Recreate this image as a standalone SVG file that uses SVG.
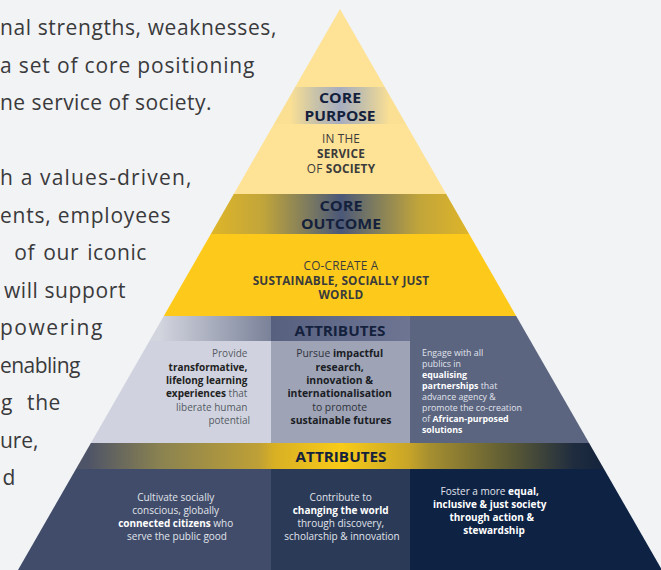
<svg xmlns="http://www.w3.org/2000/svg" width="661" height="570" viewBox="0 0 661 570">
<defs>
<style>
.para{font-family:"Open Sans","Liberation Sans",sans-serif;font-size:21px;letter-spacing:0.6px;fill:#3a3a3c;text-anchor:end}
.ps{text-anchor:start}
.t{font-family:"Open Sans","Liberation Sans",sans-serif}
.hd{font-weight:700;fill:#14213d;text-anchor:middle;font-size:14.5px}
.dk{fill:#3b3b3b;font-size:11.8px;letter-spacing:0.2px;text-anchor:middle}
.b{font-weight:700}
.lt{fill:#e1e4ec}
.wh{fill:#ffffff;font-weight:700}
</style>
<clipPath id="tri"><polygon points="340,9 18,570 662,570"/></clipPath>
<linearGradient id="gPurpose" gradientUnits="userSpaceOnUse" x1="290" y1="0" x2="390" y2="0">
<stop offset="0" stop-color="#fbe094"/><stop offset="0.25" stop-color="#c9c3a8"/><stop offset="0.5" stop-color="#a7adc0"/><stop offset="0.75" stop-color="#c9c3a8"/><stop offset="1" stop-color="#fbe094"/>
</linearGradient>
<linearGradient id="gOutcome" gradientUnits="userSpaceOnUse" x1="210" y1="0" x2="472" y2="0">
<stop offset="0" stop-color="#e0b628"/><stop offset="0.2" stop-color="#c2a53a"/><stop offset="0.38" stop-color="#7b7a60"/><stop offset="0.5" stop-color="#4b5878"/><stop offset="0.62" stop-color="#7b7a60"/><stop offset="0.8" stop-color="#c2a53a"/><stop offset="1" stop-color="#e0b628"/>
</linearGradient>
<linearGradient id="gHead1" gradientUnits="userSpaceOnUse" x1="160" y1="0" x2="271" y2="0">
<stop offset="0" stop-color="#d2d4de"/><stop offset="1" stop-color="#7a8299"/>
</linearGradient>
<linearGradient id="gHead1m" gradientUnits="userSpaceOnUse" x1="271" y1="0" x2="410" y2="0">
<stop offset="0" stop-color="#57617f"/><stop offset="1" stop-color="#6d7593"/>
</linearGradient>
<linearGradient id="gBand2" gradientUnits="userSpaceOnUse" x1="88" y1="0" x2="605" y2="0">
<stop offset="0" stop-color="#4e5467"/><stop offset="0.14" stop-color="#8a8250"/><stop offset="0.33" stop-color="#bea036"/><stop offset="0.36" stop-color="#d8b024"/><stop offset="0.49" stop-color="#f8cb18"/><stop offset="0.62" stop-color="#c8a528"/><stop offset="0.66" stop-color="#a68f30"/><stop offset="0.82" stop-color="#5a5935"/><stop offset="0.94" stop-color="#1f2c3f"/><stop offset="1" stop-color="#14233c"/>
</linearGradient>
</defs>
<rect width="661" height="570" fill="#f2f3f5"/>

<g id="left-text">
<text class="para ps" x="0" y="35" textLength="277" lengthAdjust="spacing">nal strengths, weaknesses,</text>
<text class="para ps" x="0" y="72.5" textLength="255" lengthAdjust="spacing">a set of core positioning</text>
<text class="para ps" x="0" y="110" textLength="212" lengthAdjust="spacing">ne service of society.</text>
<text class="para ps" x="0" y="185" textLength="192" lengthAdjust="spacing">h a values-driven,</text>
<text class="para ps" x="0" y="222.5" textLength="171" lengthAdjust="spacing">ents, employees</text>
<text class="para" x="147" y="260" word-spacing="2">of our iconic</text>
<text class="para" x="126" y="297.5">will support</text>
<text class="para ps" x="0" y="335" textLength="103" lengthAdjust="spacing">powering</text>
<text class="para ps" x="0" y="372.5" textLength="81" lengthAdjust="spacing">enabling</text>
<text class="para" x="61" y="410" word-spacing="8">g the</text>
<text class="para ps" x="0" y="447.5" textLength="39" lengthAdjust="spacing">ure,</text>
<text class="para" x="16" y="485">d</text>
</g>

<g id="pyramid" clip-path="url(#tri)">
<g id="apex"><rect x="0" y="0" width="661" height="87" fill="#fee295"/></g>
<g id="core-purpose">
<rect x="0" y="87" width="661" height="37" fill="url(#gPurpose)"/>
<text class="t hd" x="340" y="103" textLength="42" lengthAdjust="spacingAndGlyphs">CORE</text>
<text class="t hd" x="340" y="120.5" textLength="71" lengthAdjust="spacingAndGlyphs">PURPOSE</text>
</g>
<g id="service">
<rect x="0" y="124" width="661" height="70" fill="#fee295"/>
<text class="t dk" x="341" y="143">IN THE</text>
<text class="t dk b" x="341" y="158">SERVICE</text>
<text class="t dk" x="341" y="172.5">OF <tspan class="b">SOCIETY</tspan></text>
</g>
<g id="core-outcome">
<rect x="0" y="194" width="661" height="40" fill="url(#gOutcome)"/>
<text class="t hd" x="341" y="210.5" textLength="43" lengthAdjust="spacingAndGlyphs">CORE</text>
<text class="t hd" x="341" y="229" textLength="80" lengthAdjust="spacingAndGlyphs">OUTCOME</text>
</g>
<g id="outcome">
<rect x="0" y="234" width="661" height="82" fill="#fdca1c"/>
<text class="t dk" x="341" y="270">CO-CREATE A</text>
<text class="t dk b" x="341" y="284.5">SUSTAINABLE, SOCIALLY JUST</text>
<text class="t dk b" x="341" y="299">WORLD</text>
</g>
<g id="attributes-1">
<rect x="0" y="316" width="271" height="25" fill="url(#gHead1)"/>
<rect x="271" y="316" width="139" height="25" fill="url(#gHead1m)"/>
<rect x="410" y="316" width="251" height="25" fill="#5b6580"/>
<text class="t hd" x="340" y="336" textLength="91" lengthAdjust="spacingAndGlyphs">ATTRIBUTES</text>
</g>
<g id="attr-teaching">
<rect x="0" y="341" width="271" height="102" fill="#d0d3df"/>
<text class="t" font-size="10" text-anchor="end" fill="#555a63">
<tspan x="250" y="357">Provide</tspan>
<tspan x="250" y="370.5" class="b" fill="#222">transformative,</tspan>
<tspan x="250" y="384" class="b" fill="#222">lifelong learning</tspan>
<tspan x="250" y="397"><tspan class="b" fill="#222">experiences</tspan> that</tspan>
<tspan x="250" y="410.5">liberate human</tspan>
<tspan x="250" y="424">potential</tspan>
</text>
</g>
<g id="attr-research">
<rect x="271" y="341" width="139" height="102" fill="#9ea3b6"/>
<text class="t" font-size="10.4" text-anchor="middle" fill="#2e323b">
<tspan x="341" y="357">Pursue <tspan class="b" fill="#1a1d24">impactful</tspan></tspan>
<tspan x="341" y="370.5" class="b" fill="#1a1d24">research,</tspan>
<tspan x="341" y="384" class="b" fill="#1a1d24">innovation &amp;</tspan>
<tspan x="341" y="397" class="b" fill="#1a1d24">internationalisation</tspan>
<tspan x="341" y="410.5">to promote</tspan>
<tspan x="341" y="424" class="b" fill="#1a1d24">sustainable futures</tspan>
</text>
</g>
<g id="attr-engagement">
<rect x="410" y="341" width="251" height="102" fill="#5b6580"/>
<text class="t lt" font-size="8.8">
<tspan x="422" y="355.7">Engage with all</tspan>
<tspan x="422" y="366.7">publics in</tspan>
<tspan x="422" y="377.7" class="wh">equalising</tspan>
<tspan x="422" y="388.7"><tspan class="wh">partnerships</tspan> that</tspan>
<tspan x="422" y="399.7">advance agency &amp;</tspan>
<tspan x="422" y="410.7">promote the co-creation</tspan>
<tspan x="422" y="421.7">of <tspan class="wh">African-purposed</tspan></tspan>
<tspan x="422" y="432.7" class="wh">solutions</tspan>
</text>
</g>
<g id="attributes-2">
<rect x="0" y="443" width="661" height="26" fill="url(#gBand2)"/>
<text class="t hd" x="341" y="461.5" textLength="91" lengthAdjust="spacingAndGlyphs">ATTRIBUTES</text>
</g>
<g id="attr-citizens">
<rect x="0" y="469" width="271" height="101" fill="#404c69"/>
<text class="t lt" font-size="10" text-anchor="middle">
<tspan x="177" y="501">Cultivate socially</tspan>
<tspan x="177" y="514">conscious, globally</tspan>
<tspan x="177" y="527"><tspan class="wh">connected citizens</tspan> who</tspan>
<tspan x="177" y="540">serve the public good</tspan>
</text>
</g>
<g id="attr-world">
<rect x="271" y="469" width="139" height="101" fill="#2a3a57"/>
<text class="t lt" font-size="10" text-anchor="middle">
<tspan x="342" y="501">Contribute to</tspan>
<tspan x="342" y="514" class="wh">changing the world</tspan>
<tspan x="342" y="527">through discovery,</tspan>
<tspan x="342" y="540">scholarship &amp; innovation</tspan>
</text>
</g>
<g id="attr-society">
<rect x="410" y="469" width="251" height="101" fill="#0e2244"/>
<text class="t lt" font-size="10" text-anchor="middle">
<tspan x="491" y="495.3">Foster a more <tspan class="wh">equal,</tspan></tspan>
<tspan x="491" y="508.3" class="wh">inclusive &amp; just society</tspan>
<tspan x="493" y="521" class="wh">through action &amp;</tspan>
<tspan x="494" y="534" class="wh">stewardship</tspan>
</text>
</g>
</g>
<g id="connectors"/>
</svg>
